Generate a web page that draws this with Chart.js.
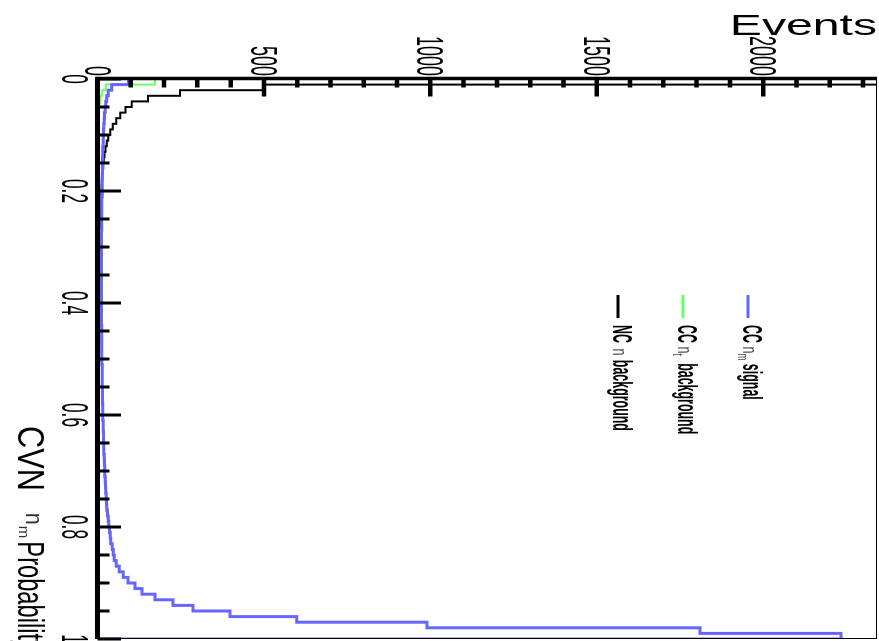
<!DOCTYPE html>
<html lang="en">
<head>
    <meta charset="UTF-8">
    <title>CVN Probability</title>
    <script src="https://cdn.jsdelivr.net/npm/chart.js"></script>
    <style>
        html, body { margin: 0; padding: 0; overflow: hidden; background: #fff; width: 879px; height: 641px; }
        /* the plot is drawn upright, then turned a quarter clockwise like the reference */
        #grafico-info {
            position: absolute; left: 0; top: 0;
            width: 641px; height: 879px;
            transform-origin: 0 0;
            transform: translate(879px, 0) rotate(90deg);
        }
    </style>
</head>
<body>
    <canvas id="grafico-info" width="641" height="879"></canvas>
    <script>
        // bin contents, 100 bins of width 0.01 in CVN probability
        const binWidth = 0.01;

        const ccSignal = [
            93, 43, 32, 28, 25, 23, 21, 20, 19, 18,
            17, 17, 16, 16, 15, 15, 15, 14, 14, 14,
            14, 13, 13, 13, 13, 13, 13, 12, 12, 12,
            12, 12, 12, 12, 12, 12, 12, 12, 12, 12,
            12, 12, 12, 12, 13, 13, 13, 13, 13, 13,
            13, 14, 14, 14, 14, 15, 15, 15, 16, 16,
            16, 17, 17, 18, 18, 19, 19, 20, 21, 22,
            22, 23, 24, 25, 26, 27, 28, 30, 32, 34,
            36, 38, 40, 44, 47, 50, 56, 65, 77, 92,
            113, 134, 173, 227, 287, 398, 599, 990, 1810, 2234
        ];

        const ccTauBkg = [
            173, 25, 14, 9, 7, 5, 4, 4, 3, 3,
            3, 2, 2, 2, 2, 2, 2, 2, 2, 2,
            2, 2, 1, 1, 1, 1, 1, 1, 1, 1,
            1, 1, 1, 1, 1, 1, 1, 1, 1, 1,
            1, 1, 1, 1, 1, 1, 1, 1, 1, 1,
            1, 1, 1, 1, 1, 1, 1, 1, 1, 1,
            1, 1, 1, 1, 1, 1, 1, 1, 1, 1,
            1, 1, 1, 1, 1, 1, 1, 1, 1, 1,
            1, 1, 1, 1, 1, 1, 1, 1, 1, 1,
            1, 1, 1, 1, 1, 1, 1, 1, 2, 2
        ];

        const ncBkg = [
            3000, 498, 248, 152, 103, 84, 68, 56, 46, 38,
            32, 28, 24, 21, 19, 17, 15, 14, 13, 12,
            11, 11, 10, 10, 9, 9, 9, 8, 8, 8,
            7, 7, 7, 7, 6, 6, 6, 6, 6, 6,
            5, 5, 5, 5, 5, 5, 5, 5, 4, 4,
            4, 4, 4, 4, 4, 4, 4, 4, 4, 4,
            3, 3, 3, 3, 3, 3, 3, 3, 3, 3,
            3, 3, 3, 3, 3, 3, 2, 2, 2, 2,
            2, 2, 2, 2, 2, 2, 2, 2, 2, 2,
            2, 2, 2, 2, 2, 2, 2, 2, 2, 2
        ];

        const eventsMax = 2342;
        const eventTicks = [0, 500, 1000, 1500, 2000];
        const probTicks = [0, 0.2, 0.4, 0.6, 0.8, 1];
        const probLabels = ['0', '0.2', '0.4', '0.6', '0.8', '1'];

        const font = '"Liberation Sans", Arial, sans-serif';

        // histogram outline: left edge of each bin, then drop to 0 at the end
        function histo(values) {
            const pts = values.map((v, i) => ({ x: i * binWidth, y: v }));
            pts.push({ x: values.length * binWidth, y: 0 });
            return pts;
        }

        function drawRich(ctx, x, y, segs) {
            let cx = x;
            segs.forEach(s => {
                cx += s.gap || 0;
                ctx.save();
                ctx.font = s.font;
                ctx.fillStyle = s.color || '#000';
                ctx.textAlign = 'left';
                ctx.textBaseline = 'alphabetic';
                ctx.translate(cx, y + (s.dy || 0));
                ctx.scale(s.sx, 1);
                ctx.fillText(s.t, 0, 0);
                cx += ctx.measureText(s.t).width * s.sx;
                ctx.restore();
            });
        }

        const legBold = 'bold 27px ' + font;
        const legGreek = '21px ' + font;
        const legSub = '14px ' + font;
        const legendItems = [
            { color: '#6666ff', y: 131, segs: [
                { t: 'CC ', font: legBold, sx: 0.46 },
                { t: 'n', font: legGreek, sx: 0.6, color: '#444' },
                { t: 'm', font: legSub, sx: 0.6, dy: 5, color: '#444' },
                { t: ' signal', font: legBold, sx: 0.46 }
            ] },
            { color: '#66ff66', y: 196, segs: [
                { t: 'CC ', font: legBold, sx: 0.46 },
                { t: 'n', font: legGreek, sx: 0.6, color: '#444' },
                { t: 't', font: legSub, sx: 0.6, dy: 5, color: '#444' },
                { t: ' background', font: legBold, sx: 0.46, gap: 4 }
            ] },
            { color: '#000000', y: 261, segs: [
                { t: 'NC ', font: legBold, sx: 0.46 },
                { t: 'n', font: legGreek, sx: 0.6, color: '#444', gap: 2 },
                { t: ' background', font: legBold, sx: 0.46, gap: 1 }
            ] }
        ];

        // ROOT style frame: thick axes, ticks pointing inside, condensed labels
        const rootFrame = {
            id: 'rootFrame',
            afterDatasetsDraw(chart) {
                const ctx = chart.ctx;
                const xs = chart.scales.x;
                const ys = chart.scales.y;
                const a = chart.chartArea;
                ctx.save();
                ctx.strokeStyle = '#000';

                ctx.lineWidth = 1;
                ctx.beginPath();
                ctx.moveTo(a.left, a.top + 0.5);
                ctx.lineTo(a.right, a.top + 0.5);
                ctx.moveTo(a.right - 0.5, a.top);
                ctx.lineTo(a.right - 0.5, a.bottom);
                ctx.stroke();

                // events axis
                ctx.lineWidth = 4.5;
                ctx.beginPath();
                for (let v = 0; v <= eventsMax; v += 100) {
                    const py = ys.getPixelForValue(v);
                    const len = v % 500 === 0 ? 18 : 9;
                    ctx.moveTo(a.left, py);
                    ctx.lineTo(a.left - 0.5 + len, py);
                }
                ctx.stroke();
                ctx.lineWidth = 3.5;
                ctx.beginPath();
                ctx.moveTo(a.left - 0.5, a.top);
                ctx.lineTo(a.left - 0.5, a.bottom + 2);
                ctx.stroke();

                // probability axis
                ctx.lineWidth = 3;
                ctx.beginPath();
                for (let i = 0; i <= 20; i++) {
                    const p = i * 0.05;
                    const px = xs.getPixelForValue(p);
                    const len = i % 4 === 0 ? 23.5 : 12;
                    ctx.moveTo(px, a.bottom);
                    ctx.lineTo(px, a.bottom - len);
                }
                ctx.stroke();
                ctx.lineWidth = 5;
                ctx.beginPath();
                ctx.moveTo(a.left - 2, a.bottom);
                ctx.lineTo(a.right, a.bottom);
                ctx.stroke();

                ctx.fillStyle = '#000';
                ctx.font = '36px ' + font;
                ctx.textBaseline = 'alphabetic';
                eventTicks.forEach(v => {
                    ctx.save();
                    ctx.translate(76, ys.getPixelForValue(v) + 12.9);
                    ctx.scale(0.5, 1);
                    ctx.textAlign = 'right';
                    ctx.fillText(String(v), 0, 0);
                    ctx.restore();
                });
                probTicks.forEach((p, i) => {
                    ctx.save();
                    ctx.translate(xs.getPixelForValue(p), 817);
                    ctx.scale(0.48, 1);
                    ctx.textAlign = 'center';
                    ctx.fillText(probLabels[i], 0, 0);
                    ctx.restore();
                });

                // axis titles
                drawRich(ctx, 426, 861, [
                    { t: 'CVN', font: '37px ' + font, sx: 0.83 },
                    { t: 'n', font: '24px ' + font, sx: 0.9, gap: 22, dy: -8, color: '#333' },
                    { t: 'm', font: '15px ' + font, sx: 1.0, gap: 1, dy: -1, color: '#333' },
                    { t: 'Probability', font: '37px ' + font, sx: 0.64, gap: 3 }
                ]);
                ctx.save();
                ctx.translate(35, a.top);
                ctx.rotate(-Math.PI / 2);
                ctx.scale(1.66, 1);
                ctx.font = '29px ' + font;
                ctx.textAlign = 'right';
                ctx.fillText('Events', 0, 0);
                ctx.restore();

                // legend
                legendItems.forEach(item => {
                    ctx.strokeStyle = item.color;
                    ctx.lineWidth = 3;
                    ctx.beginPath();
                    ctx.moveTo(295, item.y);
                    ctx.lineTo(318, item.y);
                    ctx.stroke();
                    drawRich(ctx, 325, item.y + 5, item.segs);
                });
                ctx.restore();
            }
        };

        function criarGrafico() {
            const ctx = document.getElementById('grafico-info').getContext('2d');
            new Chart(ctx, {
                type: 'line',
                data: {
                    datasets: [
                        { label: 'CC signal', data: histo(ccSignal), borderColor: '#6666ff', borderWidth: 3 },
                        { label: 'CC tau background', data: histo(ccTauBkg), borderColor: '#66ff66', borderWidth: 2 },
                        { label: 'NC background', data: histo(ncBkg), borderColor: '#000000', borderWidth: 2 }
                    ]
                },
                options: {
                    responsive: false,
                    animation: false,
                    devicePixelRatio: 1,
                    datasets: { line: { stepped: true, pointRadius: 0, fill: false, tension: 0 } },
                    layout: { padding: { left: 79, right: 2, top: 2, bottom: 97.5 } },
                    plugins: { legend: { display: false }, tooltip: { enabled: false } },
                    scales: {
                        x: { type: 'linear', min: 0, max: 1, display: false },
                        y: { type: 'linear', min: 0, max: eventsMax, display: false }
                    }
                },
                plugins: [rootFrame]
            });
        }

        window.onload = function () {
            criarGrafico();
        };
    </script>
</body>
</html>
